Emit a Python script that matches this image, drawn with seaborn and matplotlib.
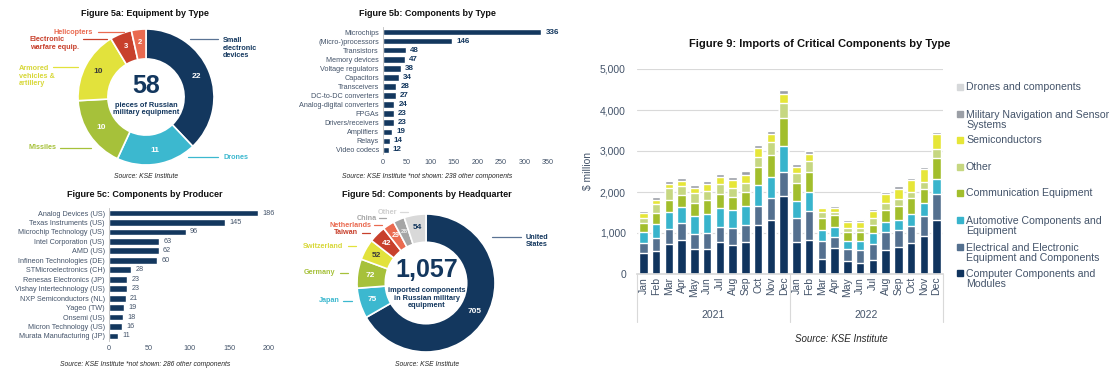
import numpy as np
import pandas as pd
import matplotlib
matplotlib.use("Agg")
import matplotlib.pyplot as plt
from matplotlib.lines import Line2D
from matplotlib.patches import Rectangle
import seaborn as sns

# Figure 5a: equipment by type
equip_types = ['Small electronic devices', 'Drones', 'Missiles', 'Armored vehicles & artillery',
               'Electronic warfare equip.', 'Helicopters']
equip_counts = [22, 11, 10, 10, 3, 2]

# Figure 5b: components by type
comp_types = ['Microchips', '(Micro-)processors', 'Transistors', 'Memory devices', 'Voltage regulators',
              'Capacitors', 'Transceivers', 'DC-to-DC converters', 'Analog-digital converters', 'FPGAs',
              'Drivers/receivers', 'Amplifiers', 'Relays', 'Video codecs']
comp_type_counts = [336, 146, 48, 47, 38, 34, 28, 27, 24, 23, 23, 19, 14, 12]

# Figure 5c: components by producer
producers = ['Analog Devices (US)', 'Texas Instruments (US)', 'Microchip Technology (US)',
             'Intel Corporation (US)', 'AMD (US)', 'Infineon Technologies (DE)', 'STMicroelectronics (CH)',
             'Renesas Electronics (JP)', 'Vishay Intertechnology (US)', 'NXP Semiconductors (NL)',
             'Yageo (TW)', 'Onsemi (US)', 'Micron Technology (US)', 'Murata Manufacturing (JP)']
producer_counts = [186, 145, 96, 63, 62, 60, 28, 23, 23, 21, 19, 18, 16, 11]

# Figure 5d: components by headquarter
hq_countries = ['United States', 'Japan', 'Germany', 'Switzerland', 'Taiwan', 'Netherlands', 'China', 'Other']
hq_counts = [705, 75, 72, 52, 42, 29, 28, 54]

# Figure 9: imports by type, $ million
months = ['Jan', 'Feb', 'Mar', 'Apr', 'May', 'Jun', 'Jul', 'Aug', 'Sep', 'Oct', 'Nov', 'Dec']
years = ['2021', '2022']
computer = [504, 570, 740, 837, 610, 610, 772, 715, 780, 1203, 1309, 1911,
            789, 837, 366, 634, 309, 268, 333, 593, 650, 748, 927, 1317]
electrical = [260, 316, 358, 407, 374, 390, 382, 415, 423, 464, 553, 577,
              569, 708, 439, 268, 293, 317, 399, 431, 423, 423, 488, 634]
automotive = [269, 342, 414, 398, 439, 455, 456, 431, 464, 496, 504, 634,
              422, 463, 268, 236, 195, 220, 276, 236, 236, 301, 317, 358]
communication = [203, 252, 301, 277, 309, 342, 341, 309, 333, 439, 528, 675,
                 448, 472, 285, 293, 219, 219, 195, 301, 358, 390, 349, 528]
other = [130, 227, 276, 227, 235, 227, 244, 236, 228, 260, 326, 382,
         227, 284, 162, 89, 98, 106, 155, 179, 154, 138, 171, 220]
semiconductors = [114, 106, 114, 114, 122, 163, 171, 179, 187, 211, 195, 219,
                  147, 155, 82, 98, 162, 146, 179, 211, 252, 293, 301, 350]
military_nav = [45, 55, 70, 85, 80, 80, 85, 80, 90, 85, 85, 100,
                90, 85, 40, 40, 40, 45, 45, 55, 70, 60, 60, 60]
drones = [12, 12, 12, 12, 12, 12, 12, 12, 12, 12, 12, 14,
          12, 12, 10, 10, 10, 10, 10, 10, 10, 12, 12, 14]

series_names = ['Drones and components', 'Military Navigation and Sensor\nSystems', 'Semiconductors', 'Other',
                'Communication Equipment', 'Automotive Components and\nEquipment',
                'Electrical and Electronic\nEquipment and Components', 'Computer Components and\nModules']
series_values = [drones, military_nav, semiconductors, other, communication, automotive, electrical, computer]
series_colors = ['#d6d8da', '#9b9fa6', '#e6e638', '#c6d781', '#a2be2c', '#38b4cc', '#54708f', '#10345e']

navy = '#13375e'
label_grey = '#44546a'

sns.set_theme(style='white')
plt.rcParams['font.family'] = ['Liberation Sans', 'DejaVu Sans']

W, H = 1119, 376
fig = plt.figure(figsize=(W / 100, H / 100), dpi=100)


def px_axes(x0, y0, w, h):
    return fig.add_axes([x0 / W, 1 - (y0 + h) / H, w / W, h / H])


def ftext(x, y, s, **kw):
    kw.setdefault('ha', 'center')
    kw.setdefault('va', 'center')
    return fig.text(x / W, 1 - y / H, s, **kw)


def fline(x0, x1, y, color):
    fig.add_artist(Line2D([x0 / W, x1 / W], [1 - y / H, 1 - y / H], color=color, lw=0.9))


def donut(ax, values, colors, width, text_colors, sizes):
    wedges, _ = ax.pie(values, colors=colors, startangle=90, counterclock=False, radius=1,
                       wedgeprops=dict(width=width, edgecolor='white', linewidth=1.2))
    r_lab = 1 - width / 2 + 0.02
    for w, v, c, s in zip(wedges, values, text_colors, sizes):
        ang = np.deg2rad((w.theta1 + w.theta2) / 2)
        ax.text(r_lab * np.cos(ang), r_lab * np.sin(ang), str(v), ha='center', va='center',
                color=c, fontsize=s, fontweight='bold')
    ax.set_xlim(-1, 1)
    ax.set_ylim(-1, 1)
    ax.set_aspect('equal')
    ax.axis('off')


def hbars(ax, labels, values, xmax, bold_values):
    sns.barplot(x=values, y=labels, orient='h', color=navy, saturation=1, width=0.72,
                errorbar=None, ax=ax)
    ax.bar_label(ax.containers[0], labels=[str(v) for v in values], padding=3,
                 fontsize=5.8 if bold_values else 5.2,
                 fontweight='bold' if bold_values else 'normal',
                 color=navy if bold_values else label_grey)
    ax.set_xlim(0, xmax)
    ax.set_ylim(len(values) - 0.5, -0.5)
    ax.set_xlabel('')
    ax.set_ylabel('')
    ax.set_xticks(range(0, xmax + 1, 50))
    ax.tick_params(axis='both', length=0, pad=3, labelsize=5.2, labelcolor=label_grey)
    for s in ['top', 'right', 'bottom']:
        ax.spines[s].set_visible(False)
    ax.spines['left'].set_color('#bfbfbf')
    ax.spines['left'].set_linewidth(0.6)


# ---------------- Figure 5a ----------------
ftext(145, 13, 'Figure 5a: Equipment by Type', fontsize=6.5, fontweight='bold', color='#111111')
ax_a = px_axes(146 - 68, 97 - 68, 136, 136)
donut(ax_a, equip_counts, ['#13375e', '#3cb8cf', '#a6c13a', '#e2e23c', '#c8402c', '#ea6a50'], 0.44,
      ['white', 'white', 'white', '#3a3a3a', 'white', 'white'], [6, 6, 6, 6, 5.5, 5.5])
ftext(146, 86, '58', fontsize=18, fontweight='bold', color=navy)
ftext(146, 109, 'pieces of Russian\nmilitary equipment', fontsize=5.3, fontweight='bold',
      color=navy, linespacing=1.1)

fline(190, 218, 39, '#5a7394')
ftext(223, 48, 'Small\nelectronic\ndevices', ha='left', fontsize=5.2, fontweight='bold',
      color=navy, linespacing=1.15)
fline(188, 218, 157, '#3cb8cf')
ftext(223, 157, 'Drones', ha='left', fontsize=5.2, fontweight='bold', color='#3cb8cf')
fline(60, 91, 148, '#a6c13a')
ftext(28, 148, 'Missiles', ha='left', fontsize=5.2, fontweight='bold', color='#a6c13a')
fline(53, 78, 67, '#e2e23c')
ftext(19, 76, 'Armored\nvehicles &\nartillery', ha='left', fontsize=5.2, fontweight='bold',
      color='#d8d83a', linespacing=1.15)
fline(83, 107, 39, '#c8402c')
ftext(30, 43.5, 'Electronic\nwarfare equip.', ha='left', fontsize=5.2, fontweight='bold',
      color='#c8402c', linespacing=1.1)
fline(98, 124, 32, '#ea6a50')
ftext(53, 32, 'Helicopters', ha='left', fontsize=5.2, fontweight='bold', color='#ea6a50')
ftext(146, 177, 'Source: KSE Institute', fontsize=4.9, style='italic', color='#262626')

# ---------------- Figure 5b ----------------
ftext(427, 13, 'Figure 5b: Components by Type', fontsize=6.5, fontweight='bold', color='#111111')
ax_b = px_axes(383, 27.5, 165, 127)
hbars(ax_b, comp_types, comp_type_counts, 350, True)
ftext(427, 177, 'Source: KSE Institute *not shown: 238 other components', fontsize=4.9,
      style='italic', color='#262626')

# ---------------- Figure 5c ----------------
ftext(145, 195, 'Figure 5c: Components by Producer', fontsize=6.5, fontweight='bold', color='#111111')
ax_c = px_axes(109, 208.3, 160, 132.4)
hbars(ax_c, producers, producer_counts, 200, False)
ftext(145, 364, 'Source: KSE Institute *not shown: 286 other components', fontsize=4.9,
      style='italic', color='#262626')

# ---------------- Figure 5d ----------------
ftext(427, 195, 'Figure 5d: Components by Headquarter', fontsize=6.5, fontweight='bold', color='#111111')
ax_d = px_axes(426 - 69, 283 - 69, 138, 138)
donut(ax_d, hq_counts, ['#13375e', '#3cb8cf', '#a6c13a', '#e2e23c', '#c8402c', '#ea6a50', '#a5a5a5', '#d9d9d9'],
      0.41, ['white', 'white', 'white', '#3a3a3a', 'white', 'white', '#eeeeee', navy],
      [6, 6, 6, 6, 6, 5, 4.5, 6])
ftext(427, 270, '1,057', fontsize=18, fontweight='bold', color=navy)
ftext(427, 298, 'imported components\nin Russian military\nequipment', fontsize=5.3, fontweight='bold',
      color=navy, linespacing=1.1)

fline(492, 521, 237, '#5a7394')
ftext(526, 241, 'United\nStates', ha='left', fontsize=5.2, fontweight='bold', color=navy, linespacing=1.1)
fline(343, 352, 301, '#3cb8cf')
ftext(340, 301, 'Japan', ha='right', fontsize=5.2, fontweight='bold', color='#3cb8cf')
fline(340, 348, 273, '#a6c13a')
ftext(335, 273, 'Germany', ha='right', fontsize=5.2, fontweight='bold', color='#a6c13a')
fline(348, 356, 246, '#e2e23c')
ftext(343, 246, 'Switzerland', ha='right', fontsize=5.2, fontweight='bold', color='#d8d83a')
fline(362, 370, 233, '#c8402c')
ftext(358, 233, 'Taiwan', ha='right', fontsize=5.2, fontweight='bold', color='#c8402c')
fline(374, 382, 225, '#ea6a50')
ftext(371, 225, 'Netherlands', ha='right', fontsize=5.2, fontweight='bold', color='#ea6a50')
fline(379, 386, 218, '#a5a5a5')
ftext(377, 218, 'China', ha='right', fontsize=5.2, fontweight='bold', color='#a5a5a5')
fline(400, 408, 212, '#d9d9d9')
ftext(397, 212, 'Other', ha='right', fontsize=5.2, fontweight='bold', color='#cfcfcf')
ftext(427, 365, 'Source: KSE Institute', fontsize=4.9, style='italic', color='#262626')

# ---------------- Figure 9 ----------------
ftext(820, 44, 'Figure 9: Imports of Critical Components by Type', fontsize=8, fontweight='bold',
      color='#111111')
ax9 = px_axes(637, 69, 306, 205)
periods = [f'{m} {y}' for y in years for m in months]
cum = np.zeros(len(periods))
stack_tops = []
for vals in series_values[::-1]:
    cum = cum + np.array(vals)
    stack_tops.append(cum.copy())
# draw the tallest cumulative first so lower layers overlay it
for tops, color in zip(stack_tops[::-1], series_colors):
    sns.barplot(x=periods, y=tops, color=color, saturation=1, width=0.65, errorbar=None, ax=ax9)

ax9.set_ylim(0, 5000)
ax9.set_xlim(-0.5, len(periods) - 0.5)
ax9.set_yticks(range(0, 5001, 1000))
ax9.set_yticklabels([f'{v:,}' for v in range(0, 5001, 1000)])
ax9.set_xticks(range(len(periods)))
ax9.set_xticklabels(months * len(years), rotation=90)
ax9.tick_params(axis='x', length=0, pad=2, labelsize=7.5, labelcolor=label_grey)
ax9.tick_params(axis='y', length=0, pad=8, labelsize=7.5, labelcolor=label_grey)
ax9.yaxis.grid(True, color='#d9d9d9', lw=0.8)
ax9.set_axisbelow(True)
for s in ['top', 'right', 'left']:
    ax9.spines[s].set_visible(False)
ax9.spines['bottom'].set_color('#d9d9d9')
ax9.set_xlabel('')
ax9.set_ylabel('$ million', fontsize=7.5, color=label_grey)
ax9.yaxis.set_label_coords(-0.145, 0.5)

trans = ax9.get_xaxis_transform()
for xb in [-0.5, 11.5, 23.5]:
    ax9.plot([xb, xb], [0, -0.235], transform=trans, color='#d9d9d9', lw=0.8, clip_on=False)
for i, y in enumerate(years):
    ax9.text(i * 12 + 5.5, -0.2, y, transform=trans, ha='center', va='center', fontsize=7.5,
             color=label_grey)

ftext(841, 339, 'Source: KSE Institute', fontsize=7, style='italic', color='#262626')

# legend, drawn in the same order as the stack from top to bottom
legend_y = [87, 114, 140, 167, 193, 220, 247, 273]
for name, color, y in zip(series_names, series_colors, legend_y):
    n_lines = name.count('\n') + 1
    fig.add_artist(Rectangle(((957) / W, 1 - (y + 3) / H), 6 / W, 6 / H, color=color,
                             transform=fig.transFigure))
    ftext(966, y + (n_lines - 1) * 6, name, ha='left', fontsize=7.6, color=label_grey, linespacing=1.1)

fig.savefig('out.png', dpi=100)
